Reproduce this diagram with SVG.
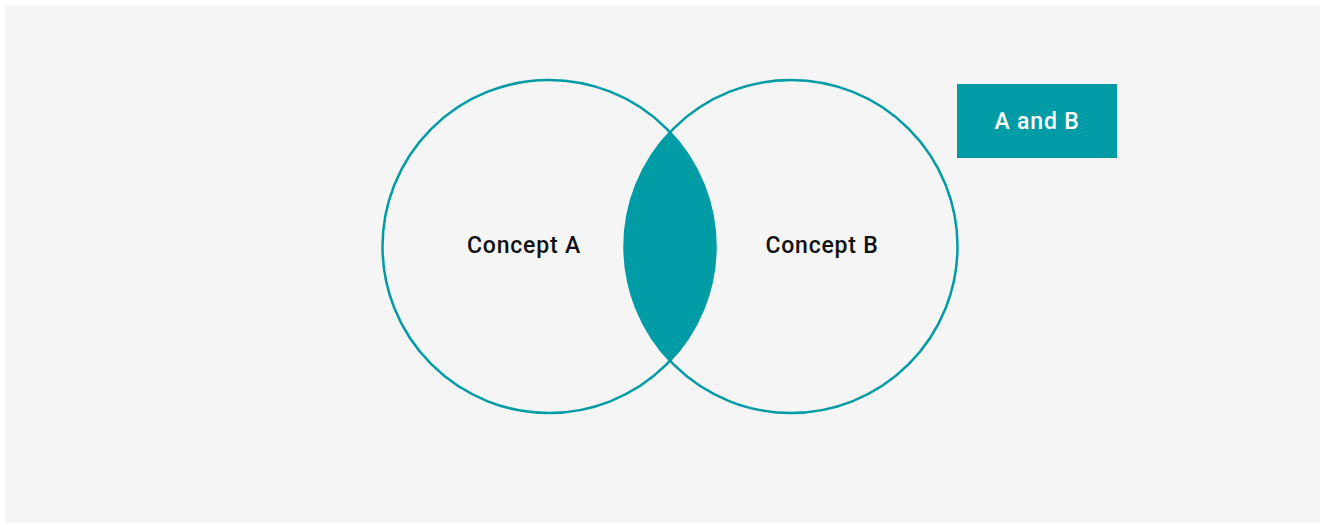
<svg xmlns="http://www.w3.org/2000/svg" width="1323" height="525" viewBox="0 0 1323 525">
<style>
.ring{fill:none;stroke:#009ca6;stroke-width:2.5}
.lbl{font-family:"Roboto","Liberation Sans",sans-serif;font-size:23px;font-weight:500;letter-spacing:0.8px;text-anchor:middle}
</style>
<rect x="0" y="0" width="1323" height="525" fill="#ffffff"/>
<rect x="5" y="5" width="1315" height="518" fill="#f5f5f5"/>
<g id="intersection">
<path d="M 670 132.1 A 166.5 166.5 0 0 1 670 360.9 A 166.5 166.5 0 0 1 670 132.1 Z" fill="#009ca6"/>
</g>
<g id="conceptA">
<circle class="ring" cx="549" cy="246.5" r="166.5"/>
<text class="lbl" x="524" y="253" fill="#111111">Concept A</text>
</g>
<g id="conceptB">
<circle class="ring" cx="791" cy="246.5" r="166.5"/>
<text class="lbl" x="822" y="253" fill="#111111">Concept B</text>
</g>
<g id="legend">
<rect x="957" y="84" width="160" height="74" fill="#009ca6"/>
<text class="lbl" x="1037" y="129" fill="#ffffff">A and B</text>
</g>
</svg>
